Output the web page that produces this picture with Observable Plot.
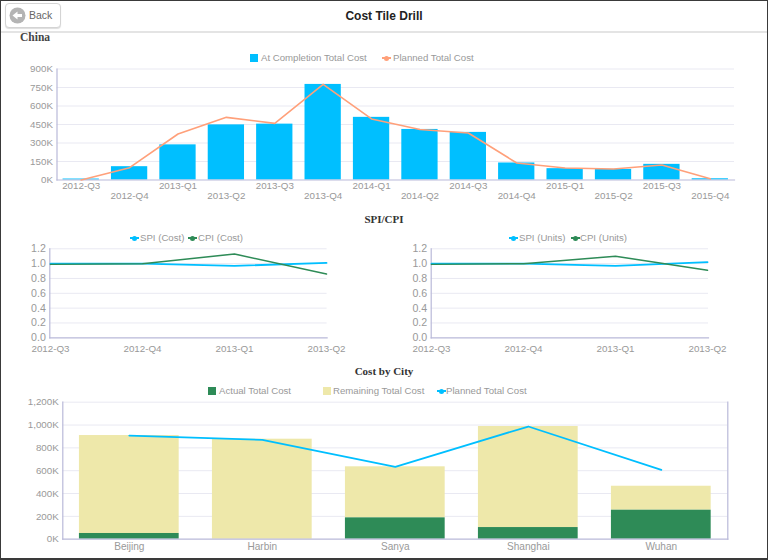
<!DOCTYPE html>
<html>
<head>
<meta charset="utf-8">
<script src="https://cdn.jsdelivr.net/npm/d3@7"></script>
<script src="https://cdn.jsdelivr.net/npm/@observablehq/plot@0.6"></script>
<style>
html,body{margin:0;padding:0;background:#fff;overflow:hidden;}
#page{position:relative;width:768px;height:560px;box-sizing:border-box;border:1px solid #3a3a3a;border-bottom-width:2px;font-family:"Liberation Sans",Arial,sans-serif;overflow:hidden;background:#fff;}
#inner{position:absolute;left:-1px;top:-1px;width:768px;height:560px;}
#header{position:absolute;left:0;top:0;width:768px;height:31px;border-bottom:2px solid #e4e4e4;}
#title{position:absolute;left:0;width:768px;top:9px;text-align:center;font-weight:bold;font-size:12px;line-height:14px;color:#222;}
#back{position:absolute;left:5px;top:3px;width:54px;height:23px;border:1px solid #d4d4d4;border-radius:4px;box-shadow:0 1px 1px #ddd;background:#fff;}
#back span{position:absolute;left:23px;top:5px;font-size:10.5px;line-height:12px;color:#666;}
#back svg{position:absolute;left:3px;top:3px;}
.sec{position:absolute;font-family:"Liberation Serif",serif;font-weight:bold;font-size:11px;line-height:12px;color:#333;}
.chart{position:absolute;left:0;}
.chart svg{display:block;overflow:visible;}
.lg{position:absolute;font-size:9.65px;line-height:12px;color:#999;white-space:nowrap;}
.sw{position:absolute;width:8px;height:8px;}
.ln{position:absolute;width:9px;height:2px;}
.ln i{position:absolute;left:2px;top:-1.5px;width:5px;height:5px;border-radius:50%;background:inherit;}
</style>
</head>
<body>
<div id="page"><div id="inner">
  <div id="header">
    <div id="back"><svg width="17" height="17" viewBox="0 0 17 17"><circle cx="8.5" cy="8.5" r="8" fill="#b4b4b4"/><path d="M3.5 8.5 L8.5 4.5 V7 H13 V10 H8.5 V12.5 Z" fill="#fff"/></svg><span>Back</span></div>
    <div id="title">Cost Tile Drill</div>
  </div>
  <div class="sec" style="left:20px;top:31px;color:#444;font-size:11.5px">China</div>
  <div class="sec" style="left:0;width:768px;text-align:center;top:213px">SPI/CPI</div>
  <div class="sec" style="left:0;width:768px;text-align:center;top:364.5px">Cost by City</div>
</div></div>
<script>
// ---------- data ----------
const quarters = ["2012-Q3","2012-Q4","2013-Q1","2013-Q2","2013-Q3","2013-Q4","2014-Q1","2014-Q2","2014-Q3","2014-Q4","2015-Q1","2015-Q2","2015-Q3","2015-Q4"];
const atCompletion = [8,108,285,447,453,775,508,410,386,138,92,86,127,10];
const plannedTotal = [0,100,373,508,459,775,495,410,381,138,97,89,122,10];

const spiQuarters = ["2012-Q3","2012-Q4","2013-Q1","2013-Q2"];
const spiCost = [1.0,1.0,0.97,1.01];
const cpiCost = [0.99,1.0,1.13,0.86];
const spiUnits = [1.0,1.0,0.97,1.02];
const cpiUnits = [0.99,1.0,1.10,0.91];

const cities = ["Beijing","Harbin","Sanya","Shanghai","Wuhan"];
const actualCost = [50,0,187,102,254];
const remainingCost = [858,876,447,885,210];
const plannedCity = [908,870,634,987,607];

// ---------- style ----------
const BLUE = "#00BFFF", SALMON = "#FFA07A", GREEN = "#2E8B57", GOLD = "#EEE8AA";
const GRID = "#e9e9f2", AXIS = "#b9b9d9", TXT = "#999";
const FS = 9.8;
const inner = document.getElementById("inner");

function place(svg, top) {
  const d = document.createElement("div");
  d.className = "chart";
  d.style.top = top + "px";
  d.appendChild(svg);
  inner.appendChild(d);
}
function legend(items, top) {
  for (const it of items) {
    const el = document.createElement("div");
    if (it.kind === "square") {
      el.className = "sw";
      el.style.cssText += `left:${it.x}px;top:${top + 2}px;background:${it.color}`;
    } else {
      el.className = "ln";
      el.style.cssText += `left:${it.x}px;top:${top + 5}px;background:${it.color}`;
      el.appendChild(document.createElement("i"));
    }
    inner.appendChild(el);
    const t = document.createElement("div");
    t.className = "lg";
    t.style.cssText += `left:${it.tx}px;top:${top}px;`;
    t.textContent = it.text;
    inner.appendChild(t);
  }
}

// ---------- China ----------
const chinaRows = quarters.map((q, i) => ({q, bar: atCompletion[i], line: plannedTotal[i]}));
place(Plot.plot({
  width: 768, height: 150,
  marginLeft: 56.5, marginRight: 34, marginTop: 8.5, marginBottom: 30.5,
  style: {background: "transparent", fontFamily: "Liberation Sans", fontSize: FS + "px"},
  x: {type: "band", domain: quarters, paddingInner: 0.25, paddingOuter: 0.125, round: false, label: null},
  y: {domain: [0, 900], label: null},
  marks: [
    Plot.gridY([150,300,450,600,750,900], {stroke: GRID, strokeOpacity: 1, strokeWidth: 1}),
    Plot.barY(chinaRows, {x: "q", y: "bar", fill: BLUE}),
    Plot.frame({anchor: "left", stroke: AXIS, strokeWidth: 1.2}),
    Plot.frame({anchor: "bottom", stroke: AXIS, strokeWidth: 1.2}),
    Plot.lineY(chinaRows, {x: "q", y: "line", stroke: SALMON, strokeWidth: 1.6}),
    Plot.axisY([0,150,300,450,600,750,900], {tickSize: 0, tickPadding: 4, tickFormat: d => d + "K", fill: TXT, fontSize: FS}),
    Plot.axisX(quarters.filter((d, i) => i % 2 === 0), {tickSize: 0, tickPadding: 2, fill: TXT, fontSize: FS, label: null}),
    Plot.axisX(quarters.filter((d, i) => i % 2 === 1), {tickSize: 0, tickPadding: 12, fill: TXT, fontSize: FS, label: null})
  ]
}), 60);
legend([
  {kind: "square", x: 250, tx: 261, color: BLUE, text: "At Completion Total Cost"},
  {kind: "line", x: 382, tx: 393, color: SALMON, text: "Planned Total Cost"}
], 52);

// ---------- SPI / CPI ----------
function spiChart(spi, cpi, left, top) {
  const rows = spiQuarters.map((q, i) => ({q, spi: spi[i], cpi: cpi[i]}));
  return Plot.plot({
    width: 768, height: 120,
    marginLeft: left, marginRight: 768 - left - 277.3, marginTop: 8.3, marginBottom: 22.7,
    style: {background: "transparent", fontFamily: "Liberation Sans", fontSize: FS + "px"},
    x: {type: "point", domain: spiQuarters, padding: 0, label: null},
    y: {domain: [0, 1.2], label: null},
    marks: [
      Plot.gridY([0.2,0.4,0.6,0.8,1.0,1.2], {stroke: GRID, strokeOpacity: 1, strokeWidth: 1}),
      Plot.frame({anchor: "left", stroke: AXIS, strokeWidth: 1.2}),
      Plot.frame({anchor: "bottom", stroke: AXIS, strokeWidth: 1.2}),
      Plot.lineY(rows, {x: "q", y: "spi", stroke: BLUE, strokeWidth: 1.8}),
      Plot.lineY(rows, {x: "q", y: "cpi", stroke: GREEN, strokeWidth: 1.5}),
      Plot.axisY([0,0.2,0.4,0.6,0.8,1.0,1.2], {tickSize: 0, tickPadding: 4, tickFormat: d3.format(".1f"), fill: TXT, fontSize: FS + 0.8}),
      Plot.axisX(spiQuarters, {tickSize: 0, tickPadding: 7, fill: TXT, fontSize: FS, label: null})
    ]
  });
}
place(spiChart(spiCost, cpiCost, 49.3), 240);
place(spiChart(spiUnits, cpiUnits, 430.7), 240);
legend([
  {kind: "line", x: 130, tx: 140, color: BLUE, text: "SPI (Cost)"},
  {kind: "line", x: 188, tx: 198, color: GREEN, text: "CPI (Cost)"},
  {kind: "line", x: 509, tx: 519, color: BLUE, text: "SPI (Units)"},
  {kind: "line", x: 571, tx: 580, color: GREEN, text: "CPI (Units)"}
], 232);

// ---------- Cost by City ----------
const cityRows = cities.map((c, i) => ({c, actual: actualCost[i], top: actualCost[i] + remainingCost[i], planned: plannedCity[i]}));
place(Plot.plot({
  width: 768, height: 160,
  marginLeft: 62.3, marginRight: 40.7, marginTop: 6.7, marginBottom: 16.3,
  style: {background: "transparent", fontFamily: "Liberation Sans", fontSize: FS + "px"},
  x: {type: "band", domain: cities, paddingInner: 0.25, paddingOuter: 0.125, round: false, label: null},
  y: {domain: [0, 1200], label: null},
  marks: [
    Plot.gridY([200,400,600,800,1000,1200], {stroke: GRID, strokeOpacity: 1, strokeWidth: 1}),
    Plot.barY(cityRows, {x: "c", y1: "actual", y2: "top", fill: GOLD}),
    Plot.barY(cityRows, {x: "c", y1: 0, y2: "actual", fill: GREEN}),
    Plot.frame({anchor: "left", stroke: AXIS, strokeWidth: 1.2}),
    Plot.frame({anchor: "right", stroke: AXIS, strokeWidth: 1.2}),
    Plot.frame({anchor: "bottom", stroke: AXIS, strokeWidth: 1.2}),
    Plot.lineY(cityRows, {x: "c", y: "planned", stroke: BLUE, strokeWidth: 1.8}),
    Plot.axisY([0,200,400,600,800,1000,1200], {tickSize: 0, tickPadding: 4, tickFormat: d => d3.format(",")(d) + "K", fill: TXT, fontSize: FS}),
    Plot.axisX(cities, {tickSize: 0, tickPadding: 4, fill: TXT, fontSize: FS + 0.3, label: null})
  ]
}), 395);
legend([
  {kind: "square", x: 208, tx: 219, color: GREEN, text: "Actual Total Cost"},
  {kind: "square", x: 323, tx: 333, color: GOLD, text: "Remaining Total Cost"},
  {kind: "line", x: 437, tx: 446, color: BLUE, text: "Planned Total Cost"}
], 385);
</script>
</body>
</html>
